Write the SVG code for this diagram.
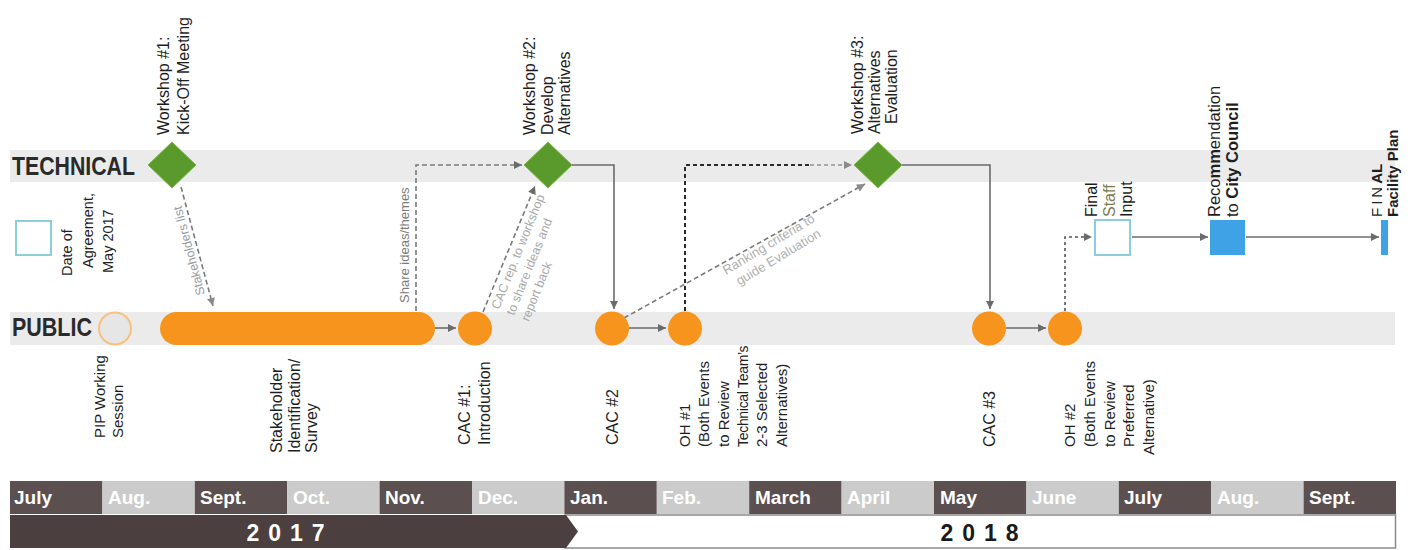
<svg xmlns="http://www.w3.org/2000/svg" width="1413" height="550" viewBox="0 0 1413 550">
<defs>
<style>
text{font-family:'Liberation Sans',Arial,sans-serif}
.lbl{font-size:16px;fill:#1e1e1e}
.wl{font-size:16px;fill:#1e1e1e}
.band{fill:#ebebeb}
.dia{fill:#5a9a2c;stroke:#7fb84a;stroke-width:1}
.dot{fill:#f7941e}
.sol{fill:none;stroke:#6b6b6b;stroke-width:1.6}
.dash{fill:none;stroke:#7a7a7a;stroke-width:1.6;stroke-dasharray:5 3}
.ctl{font-size:12.5px;fill:#9a9a9a}
.mon{font-size:19px;font-weight:bold;fill:#fff}
.dk{fill:#5b4f4f}
.lt{fill:#cbcbcb}
</style>
<marker id="ah" viewBox="0 0 10 10" refX="10" refY="5" markerWidth="9" markerHeight="8" markerUnits="userSpaceOnUse" orient="auto"><path d="M0,0 L10,5 L0,10 z" fill="#6b6b6b"/></marker>
<marker id="ahl" viewBox="0 0 10 10" refX="10" refY="5" markerWidth="9" markerHeight="8" markerUnits="userSpaceOnUse" orient="auto"><path d="M0,0 L10,5 L0,10 z" fill="#8a8a8a"/></marker>
</defs>
<rect width="1413" height="550" fill="#fff"/>

<g id="lanes">
<rect class="band" x="10" y="150" width="1385" height="32"/>
<rect class="band" x="10" y="312" width="1385" height="33"/>
<text x="12" y="175" font-size="25" font-weight="bold" fill="#2a2a2a" textLength="123" lengthAdjust="spacingAndGlyphs">TECHNICAL</text>
<text x="12" y="336" font-size="25" font-weight="bold" fill="#2a2a2a" textLength="80" lengthAdjust="spacingAndGlyphs">PUBLIC</text>
</g>

<g id="connectors">
<path class="dash" d="M181,187 L213,306" stroke="#8a8a8a" marker-end="url(#ahl)"/>
<text class="ctl" fill="#888" transform="translate(205,294) rotate(-105)">Stakeholders list</text>
<path class="dash" d="M416,311 V165 H522" marker-end="url(#ah)"/>
<text class="ctl" style="fill:#7a7a7a;font-size:13px" transform="translate(409,303) rotate(-90)">Share ideas/themes</text>
<path class="dash" d="M483,312 L535,186" stroke="#6e6e6e" marker-end="url(#ah)"/>
<text class="ctl" style="fill:#a8a8a8" transform="translate(499,310) rotate(-68)"><tspan x="0" y="0">CAC rep. to workshop</tspan><tspan x="0" y="16">to share ideas and</tspan><tspan x="0" y="32">report back</tspan></text>
<path class="sol" d="M572,165 H614 V309" marker-end="url(#ah)"/>
<path class="dash" d="M624,318 L865,184" stroke="#909090" marker-end="url(#ahl)"/>
<text class="ctl" style="fill:#b0b0b0;font-size:13px" transform="translate(726,275) rotate(-31)"><tspan x="0" y="0">Ranking criteria to</tspan><tspan x="6" y="16">guide Evaluation</tspan></text>
<path d="M685,311 V165 H810" fill="none" stroke="#2a2a2a" stroke-width="2" stroke-dasharray="4 3"/>
<path d="M810,165 H852" fill="none" stroke="#a8a8a8" stroke-width="2" stroke-dasharray="4 3" marker-end="url(#ahl)"/>
<path class="sol" d="M902,165 H990 V309" marker-end="url(#ah)"/>
<path class="sol" d="M435,328 H456" marker-end="url(#ah)"/>
<path class="sol" d="M629,328 H666" marker-end="url(#ah)"/>
<path class="sol" d="M1006,328 H1046" marker-end="url(#ah)"/>
<path d="M1065,311 V237 H1092" fill="none" stroke="#555" stroke-width="1.6" stroke-dasharray="3 3" marker-end="url(#ah)"/>
<path class="sol" d="M1132,237 H1208" marker-end="url(#ah)"/>
<path class="sol" d="M1246,237 H1379" marker-end="url(#ah)"/>
</g>

<g id="n-date">
<rect x="16" y="221" width="35" height="34" fill="#fff" stroke="#8ccfd9" stroke-width="2"/>
<text class="lbl" style="font-size:14.5px" transform="translate(72,276) rotate(-90)"><tspan x="0" y="0">Date of</tspan><tspan x="8" y="21">Agreement,</tspan><tspan x="3" y="41">May 2017</tspan></text>
</g>

<g id="n-ws1">
<polygon class="dia" points="172,142 196,165 172,188 148,165"/>
<text class="wl" transform="translate(169,135) rotate(-90)"><tspan x="0" y="0">Workshop #1:</tspan><tspan x="0" y="20">Kick-Off Meeting</tspan></text>
</g>

<g id="n-ws2">
<polygon class="dia" points="548,142 572,165 548,188 524,165"/>
<text class="wl" transform="translate(535,135) rotate(-90)"><tspan x="0" y="0">Workshop #2:</tspan><tspan x="0" y="17.5">Develop</tspan><tspan x="0" y="35">Alternatives</tspan></text>
</g>

<g id="n-ws3">
<polygon class="dia" points="878,142 902,165 878,188 854,165"/>
<text class="wl" transform="translate(863,134) rotate(-90)"><tspan x="0" y="0">Workshop #3:</tspan><tspan x="0" y="17">Alternatives</tspan><tspan x="10" y="34">Evaluation</tspan></text>
</g>

<g id="n-pip">
<circle cx="115" cy="328.5" r="16" fill="#e6e6e6" stroke="#f9c07e" stroke-width="2"/>
<text class="lbl" style="font-size:15px" transform="translate(105,438) rotate(-90)"><tspan x="0" y="0">PIP Working</tspan><tspan x="0" y="18">Session</tspan></text>
</g>

<g id="n-stake">
<rect class="dot" x="160" y="312" width="275" height="33" rx="16.5"/>
<text class="lbl" transform="translate(282,453) rotate(-90)"><tspan x="0" y="0">Stakeholder</tspan><tspan x="0" y="17.5">Identification/</tspan><tspan x="0" y="35">Survey</tspan></text>
</g>

<g id="n-cac1">
<circle class="dot" cx="475" cy="328.5" r="17"/>
<text class="lbl" transform="translate(470,445) rotate(-90)"><tspan x="0" y="0">CAC #1:</tspan><tspan x="0" y="20">Introduction</tspan></text>
</g>

<g id="n-cac2">
<circle class="dot" cx="612" cy="328.5" r="17"/>
<text class="lbl" transform="translate(618,445) rotate(-90)">CAC #2</text>
</g>

<g id="n-oh1">
<circle class="dot" cx="685" cy="328.5" r="17"/>
<text class="lbl" style="font-size:15px" transform="translate(690,447) rotate(-90)"><tspan x="0" y="0">OH #1</tspan><tspan x="0" y="19.3">(Both Events</tspan><tspan x="0" y="38.6">to Review</tspan><tspan x="0" y="57.9" font-size="14" letter-spacing="-0.3">Technical Team’s</tspan><tspan x="0" y="77.2">2-3 Selected</tspan><tspan x="0" y="96.5">Alternatives)</tspan></text>
</g>

<g id="n-cac3">
<circle class="dot" cx="989" cy="328.5" r="17"/>
<text class="lbl" transform="translate(995,447) rotate(-90)">CAC #3</text>
</g>

<g id="n-oh2">
<circle class="dot" cx="1065" cy="328.5" r="17"/>
<text class="lbl" style="font-size:15px" transform="translate(1075,447) rotate(-90)"><tspan x="0" y="0">OH #2</tspan><tspan x="0" y="19.8">(Both Events</tspan><tspan x="0" y="39.6">to Review</tspan><tspan x="0" y="59.4">Preferred</tspan><tspan x="-8" y="79.2">Alternative)</tspan></text>
</g>

<g id="n-final-staff">
<rect x="1095" y="220" width="35" height="35" fill="#fff" stroke="#8ccbe0" stroke-width="2"/>
<text class="wl" transform="translate(1097,217) rotate(-90)"><tspan x="0" y="0">Final</tspan><tspan x="0" y="17.5" fill="#7d7a4c">Staff</tspan><tspan x="0" y="35">Input</tspan></text>
</g>

<g id="n-rec">
<rect x="1210" y="220" width="35" height="35" fill="#3fa2e6"/>
<text class="wl" style="font-size:16.5px" transform="translate(1220,217) rotate(-90)"><tspan x="0" y="0">Reco<tspan font-weight="bold">mm</tspan>endation</tspan><tspan x="0" y="18">to <tspan font-weight="bold">City Council</tspan></tspan></text>
</g>

<g id="n-final">
<rect x="1381" y="220" width="7" height="35" fill="#3fa2e6"/>
<text class="wl" style="font-size:15px" transform="translate(1382,217) rotate(-90)"><tspan x="0" y="0" letter-spacing="3">FIN</tspan><tspan font-weight="bold">AL</tspan><tspan x="0" y="16" font-weight="bold">Facility Plan</tspan></text>
</g>

<g id="timeline">
<rect class="dk" x="10" y="481" width="92.4" height="33"/>
<rect class="lt" x="102.4" y="481" width="92.4" height="33"/>
<rect class="dk" x="194.8" y="481" width="92.4" height="33"/>
<rect class="lt" x="287.2" y="481" width="92.4" height="33"/>
<rect class="dk" x="379.6" y="481" width="92.4" height="33"/>
<rect class="lt" x="472" y="481" width="92.4" height="33"/>
<rect class="dk" x="564.4" y="481" width="92.4" height="33"/>
<rect class="lt" x="656.8" y="481" width="92.4" height="33"/>
<rect class="dk" x="749.2" y="481" width="92.4" height="33"/>
<rect class="lt" x="841.6" y="481" width="92.4" height="33"/>
<rect class="dk" x="934" y="481" width="92.4" height="33"/>
<rect class="lt" x="1026.4" y="481" width="92.4" height="33"/>
<rect class="dk" x="1118.8" y="481" width="92.4" height="33"/>
<rect class="lt" x="1211.2" y="481" width="92.4" height="33"/>
<rect class="dk" x="1303.6" y="481" width="92.4" height="33"/>
<text class="mon" x="14" y="504">July</text>
<text class="mon" x="108" y="504">Aug.</text>
<text class="mon" x="200" y="504">Sept.</text>
<text class="mon" x="293" y="504">Oct.</text>
<text class="mon" x="385" y="504">Nov.</text>
<text class="mon" x="478" y="504">Dec.</text>
<text class="mon" x="570" y="504">Jan.</text>
<text class="mon" x="662" y="504">Feb.</text>
<text class="mon" x="755" y="504">March</text>
<text class="mon" x="847" y="504">April</text>
<text class="mon" x="940" y="504">May</text>
<text class="mon" x="1032" y="504">June</text>
<text class="mon" x="1124" y="504">July</text>
<text class="mon" x="1217" y="504">Aug.</text>
<text class="mon" x="1309" y="504">Sept.</text>
<rect x="565" y="515" width="830.5" height="33" fill="#fff" stroke="#8a8a8a" stroke-width="1.5"/>
<polygon points="10,515 566,515 578,531.5 566,548 10,548" fill="#4b3f40"/>
<text x="290" y="541" font-size="23" font-weight="bold" fill="#fff" letter-spacing="9" text-anchor="middle">2017</text>
<text x="984" y="541" font-size="23" font-weight="bold" fill="#1a1a1a" letter-spacing="9" text-anchor="middle">2018</text>
</g>
</svg>
